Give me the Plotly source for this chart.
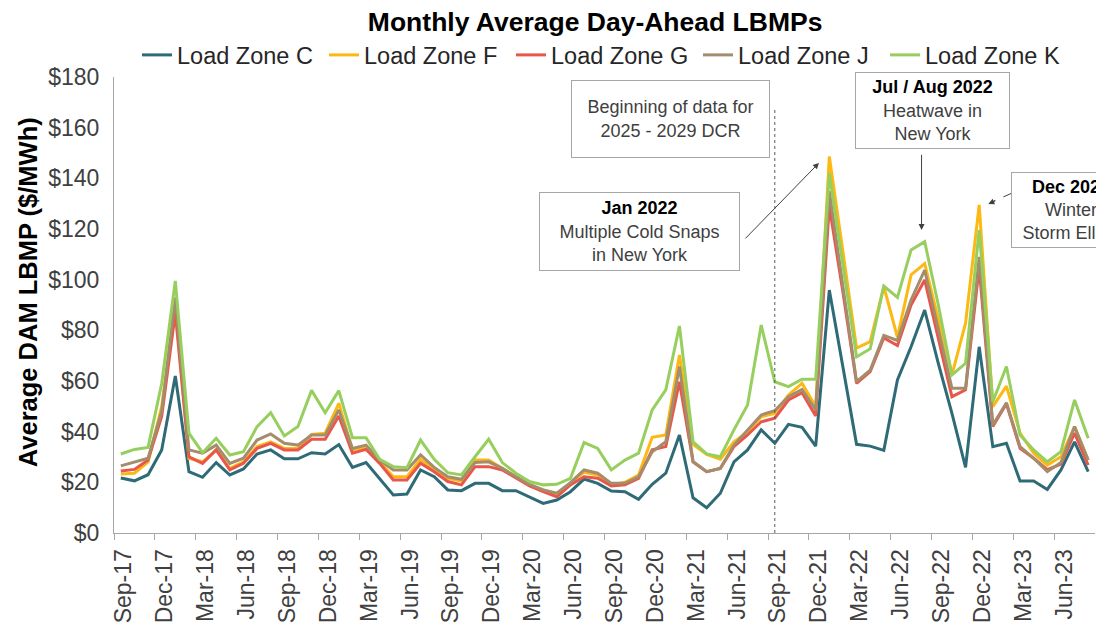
import pandas as pd
import plotly.graph_objects as go

# Monthly average day-ahead LBMPs ($/MWh), Sep-2017 .. Aug-2023
months = pd.date_range("2017-09-01", periods=72, freq="MS")
month_names = [m.strftime("%b-%y") for m in months]

zone_c = [21.7, 20.6, 23.0, 32.8, 62.0, 24.2, 22.0, 27.8, 22.9, 25.3, 31.2, 32.8,
          29.3, 29.3, 31.7, 31.2, 34.9, 25.9, 27.8, 21.6, 15.0, 15.4, 24.9, 22.2,
          17.0, 16.7, 19.6, 19.6, 16.7, 16.7, 14.3, 11.7, 13.0, 16.3, 21.3, 19.6,
          16.6, 16.3, 13.3, 19.2, 23.6, 38.7, 13.9, 10.0, 15.7, 28.1, 32.8, 40.7,
          35.4, 42.9, 41.7, 34.3, 95.9, 65.0, 35.0, 34.3, 32.6, 60.4, 73.5, 88.0,
          67.0, 47.2, 25.9, 73.5, 34.1, 35.4, 20.5, 20.5, 17.2, 24.9, 36.0, 24.2]

zone_f = [23.3, 23.6, 28.1, 50.0, 90.0, 29.5, 28.1, 32.8, 25.5, 28.1, 34.1, 36.0,
          33.4, 33.4, 38.9, 39.4, 51.2, 32.8, 33.9, 28.1, 22.2, 22.2, 29.1, 25.0,
          21.6, 20.5, 28.8, 28.8, 25.5, 22.2, 19.0, 17.0, 15.5, 19.6, 24.0, 22.9,
          19.0, 20.0, 22.9, 37.8, 38.7, 70.3, 35.0, 31.0, 29.1, 36.0, 39.9, 45.9,
          47.2, 54.5, 59.1, 49.9, 148.6, 111.0, 73.0, 75.5, 97.3, 77.2, 101.9, 106.3,
          84.0, 62.4, 82.8, 129.5, 49.9, 58.0, 39.4, 31.5, 26.8, 30.1, 42.0, 28.8]

zone_g = [24.5, 25.1, 28.8, 46.0, 87.0, 30.1, 27.5, 32.8, 24.9, 27.5, 33.4, 35.4,
          32.8, 32.8, 37.0, 37.0, 46.2, 31.5, 33.0, 27.5, 20.9, 20.9, 27.5, 24.2,
          20.3, 19.0, 26.2, 26.2, 24.9, 21.6, 18.6, 16.3, 14.3, 19.0, 22.2, 21.6,
          18.6, 19.0, 21.6, 32.8, 34.1, 59.7, 28.1, 24.2, 25.5, 34.1, 38.7, 43.9,
          45.3, 52.5, 55.4, 46.2, 129.0, 95.0, 59.1, 63.7, 77.0, 74.0, 90.0, 99.9,
          77.0, 53.8, 56.5, 105.0, 42.0, 51.0, 33.4, 29.5, 25.0, 27.2, 39.4, 26.8]

zone_j = [26.5, 28.1, 29.5, 48.0, 93.0, 32.8, 31.5, 34.7, 27.5, 29.5, 36.7, 39.1,
          35.4, 34.7, 38.7, 38.7, 48.6, 33.4, 34.7, 28.8, 24.9, 24.9, 30.8, 25.9,
          22.2, 21.2, 27.8, 28.1, 25.5, 22.2, 19.2, 17.0, 15.7, 19.9, 24.9, 23.6,
          19.6, 19.6, 22.2, 32.1, 36.0, 65.7, 28.1, 24.2, 25.5, 34.7, 40.7, 46.6,
          48.3, 53.8, 56.7, 48.6, 135.0, 98.0, 59.7, 64.3, 78.0, 76.0, 92.0, 103.8,
          80.0, 57.1, 57.1, 109.0, 42.6, 51.4, 34.1, 29.5, 24.2, 27.8, 42.0, 28.8]

zone_k = [31.2, 33.0, 33.8, 59.0, 99.5, 39.4, 31.7, 37.4, 30.8, 32.1, 42.0, 47.5,
          38.3, 42.0, 56.3, 47.5, 56.2, 37.6, 37.6, 29.1, 26.2, 25.8, 36.7, 29.1,
          23.8, 22.9, 30.1, 37.0, 27.8, 23.6, 20.3, 19.0, 19.2, 21.6, 35.7, 33.4,
          24.9, 28.8, 31.5, 48.6, 56.5, 81.7, 36.0, 31.2, 30.1, 40.7, 50.5, 82.1,
          59.7, 57.8, 60.7, 60.7, 142.0, 105.0, 69.5, 72.7, 97.5, 93.0, 111.7, 115.0,
          90.0, 62.4, 67.0, 119.6, 51.8, 65.7, 38.7, 32.8, 28.1, 32.1, 52.5, 37.4]

series_names = ["Load Zone C", "Load Zone F", "Load Zone G", "Load Zone J", "Load Zone K"]
series_values = [zone_c, zone_f, zone_g, zone_j, zone_k]
series_colors = ["#2E6B77", "#FDB913", "#E9574A", "#A48D6C", "#97CF5E"]

tick_labels = ["Sep-17", "Dec-17", "Mar-18", "Jun-18", "Sep-18", "Dec-18",
               "Mar-19", "Jun-19", "Sep-19", "Dec-19", "Mar-20", "Jun-20",
               "Sep-20", "Dec-20", "Mar-21", "Jun-21", "Sep-21", "Dec-21",
               "Mar-22", "Jun-22", "Sep-22", "Dec-22", "Mar-23", "Jun-23"]

FONT = "Liberation Sans, Arial, sans-serif"
TEXT = "#404040"

idx = list(range(len(months)))
fig = go.Figure()
for name, vals, color in zip(series_names, series_values, series_colors):
    fig.add_trace(go.Scatter(
        x=idx, y=vals, mode="lines", name=name,
        customdata=month_names,
        hovertemplate="%{customdata}: $%{y:.1f}<extra>" + name + "</extra>",
        line=dict(color=color, width=3),
    ))

# category boundaries every quarter, labels centred on the month
tick_pos = [month_names.index(t) - 0.5 for t in tick_labels]

i_dcr = month_names.index("Sep-21")
i_jan22 = month_names.index("Jan-22")
i_aug22 = month_names.index("Aug-22")
i_dec22 = month_names.index("Dec-22")

fig.update_layout(
    width=1096, height=627, autosize=False,
    margin=dict(l=114, r=1, t=77, b=94),
    paper_bgcolor="white", plot_bgcolor="white",
    font=dict(family=FONT, color=TEXT),
    title=dict(text="<b>Monthly Average Day-Ahead LBMPs</b>",
               x=0.543, xanchor="center", xref="container",
               y=0.965, yanchor="middle", yref="container",
               font=dict(size=26.5, color="#000000", family=FONT)),
    legend=dict(orientation="h", x=0.5, xanchor="center", y=1.048, yanchor="middle",
                font=dict(size=23.5, color="#262626"), bgcolor="rgba(0,0,0,0)",
                itemwidth=30, tracegroupgap=0, entrywidth=142, entrywidthmode="pixels"),
    showlegend=True,
    xaxis=dict(range=[-0.5, len(months) - 0.5], tickmode="array",
               tickvals=tick_pos, ticktext=tick_labels, tickangle=-90,
               ticks="outside", ticklen=6, tickcolor="#A6A6A6",
               showline=True, linecolor="#A6A6A6", linewidth=1,
               showgrid=False, zeroline=False, ticklabelshift=10,
               tickfont=dict(size=23, color=TEXT)),
    yaxis=dict(range=[0, 180], tickmode="linear", tick0=0, dtick=20,
               tickprefix="$", ticks="", showline=True, linecolor="#A6A6A6",
               linewidth=1, showgrid=False, zeroline=False, ticklabelstandoff=9,
               tickfont=dict(size=23, color=TEXT)),
)

# start of the DCR data window
fig.add_shape(type="line", xref="x", yref="y", x0=i_dcr, x1=i_dcr, y0=0, y1=168,
              line=dict(color="#595959", width=1, dash="dot"))

# dashed leader for the Dec 2022 callout
fig.add_shape(type="line", xref="x", yref="y",
              x0=i_dec22 + 2.38, y0=134.1, x1=i_dec22 + 0.9, y1=130.6,
              line=dict(color="#404040", width=1, dash="dash"))

box = dict(showarrow=False, xref="paper", yref="paper", bgcolor="white",
           bordercolor="#A6A6A6", borderwidth=1, borderpad=0,
           font=dict(size=18, color=TEXT, family=FONT), align="center",
           xanchor="center", yanchor="middle")

annotations = [
    dict(text="<b>Average DAM LBMP ($/MWh)</b>", textangle=-90, showarrow=False,
         xref="paper", yref="paper", x=-0.0877, y=0.528, xanchor="center", yanchor="middle",
         font=dict(size=25.5, color="#000000", family=FONT)),
    dict(box, text="Beginning of data for<br>2025 - 2029 DCR",
         x=0.5673, y=0.9079, width=197, height=76),
    dict(box, text="<b><span style='color:#000000'>Jan 2022</span></b><br>Multiple Cold Snaps<br>in New York",
         x=0.5357, y=0.6612, width=199, height=77),
    dict(box, text="<b><span style='color:#000000'>Jul / Aug 2022</span></b><br>Heatwave in<br>New York",
         x=0.8344, y=0.9261, width=153, height=75),
    dict(box, text="<b><span style='color:#000000'>Dec 2022</span></b><br>Winter<br>Storm Elliott",
         x=0.9755, y=0.7083, width=118, height=74),
    # arrows to the price spikes
    dict(text="", x=i_jan22 - 0.76, y=146.1, ax=i_jan22 - 6.26, ay=115.7,
         xref="x", yref="y", axref="x", ayref="y", showarrow=True,
         arrowhead=2, arrowsize=1.2, arrowwidth=1, arrowcolor="#404040"),
    dict(text="", x=i_aug22 - 0.23, y=119.6, ax=i_aug22 - 0.23, ay=149.9,
         xref="x", yref="y", axref="x", ayref="y", showarrow=True,
         arrowhead=2, arrowsize=1.2, arrowwidth=1, arrowcolor="#404040"),
    dict(text="", x=i_dec22 + 0.67, y=129.9, ax=i_dec22 + 1.3, ay=131.4,
         xref="x", yref="y", axref="x", ayref="y", showarrow=True,
         arrowhead=2, arrowsize=1.2, arrowwidth=1, arrowcolor="#404040"),
]
fig.update_layout(annotations=annotations)

fig.write_html("out.html")
